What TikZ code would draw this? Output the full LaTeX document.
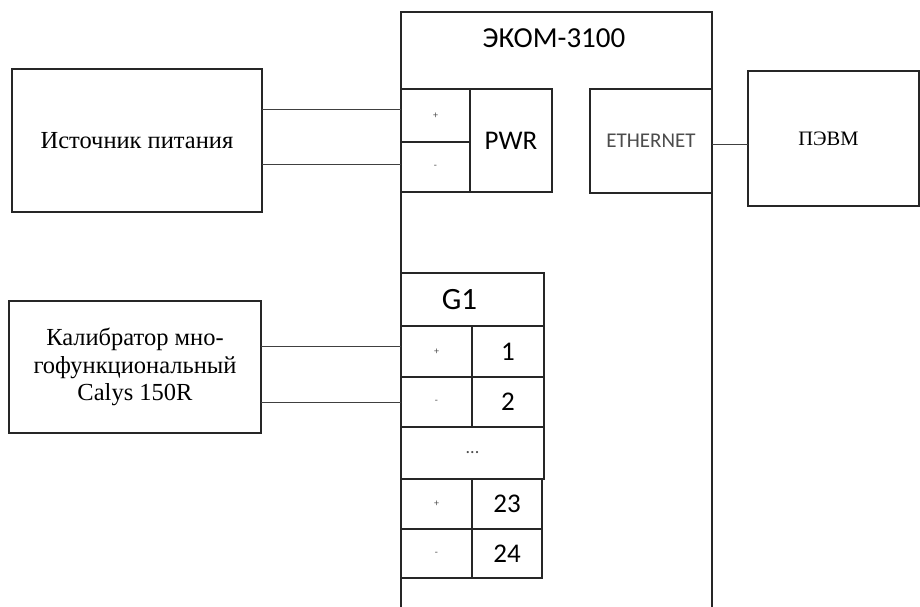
\documentclass[tikz,border=0pt]{standalone}
\usepackage{fontspec}
\setmainfont{Liberation Serif}
\newfontfamily\calfont{Carlito}
\begin{document}
\begin{tikzpicture}[x=1pt,y=-1pt,
  box/.style={draw=black!85,line width=1.3pt,inner sep=0pt,outer sep=0pt},
  wire/.style={draw=black!75,line width=0.9pt},
  serif/.style={font=\fontsize{24.5}{27.5}\selectfont,align=center},
  sans/.style={font=\calfont\fontsize{27}{30}\selectfont},
  pm/.style={font=\calfont\fontsize{10}{10}\selectfont,text=black!70}]
\useasboundingbox (0,0) rectangle (920,606);
% power source
\node[box,serif,minimum width=250,minimum height=143] (src) at (137,140.5) {Источник питания};
% EKOM main housing (open at the bottom)
\node[inner sep=0pt,outer sep=0pt,minimum width=311,minimum height=600] (ekom) at (556.5,312) {};
\draw[box] (ekom.south west) -- (ekom.north west) -- (ekom.north east) -- (ekom.south east);
\node[font=\calfont\fontsize{29}{32}\selectfont] (title) at (554,38) {ЭКОМ-3100};
% PWR block
\node[box,pm,minimum width=69,minimum height=53] (pplus) at (435.5,115.5) {+};
\node[box,pm,minimum width=69,minimum height=50] (pminus) at (435.5,167) {-};
\node[box,sans,minimum width=82,minimum height=103] (pwr) at (511,140.5) {PWR};
% ETHERNET
\node[box,font=\calfont\fontsize{21}{24}\selectfont,text=black!70,minimum width=122,minimum height=104] (eth) at (651,141) {ETHERNET};
% PC
\node[box,font=\fontsize{20.5}{24}\selectfont,minimum width=171,minimum height=135] (pevm) at (833.5,138.5) {\hspace*{-10pt}ПЭВМ};
% G1 block
\node[box,font=\calfont\fontsize{31}{34}\selectfont,minimum width=143,minimum height=53] (g1) at (472.5,299.5) {\hspace*{-26pt}G1};
\node[box,pm,minimum width=71,minimum height=51] (g1p) at (436.5,351.5) {+};
\node[box,sans,minimum width=72,minimum height=51] (g1n) at (508,351.5) {1};
\node[box,pm,minimum width=71,minimum height=50] (g2m) at (436.5,402) {-};
\node[box,sans,minimum width=72,minimum height=50] (g2n) at (508,402) {2};
\node[box,pm,font=\calfont\fontsize{18}{18}\selectfont,minimum width=143,minimum height=52] (gdots) at (472.5,453) {...};
\node[box,pm,minimum width=71,minimum height=50] (g23p) at (436.5,504) {+};
\node[box,sans,minimum width=70,minimum height=50] (g23n) at (507,504) {23};
\node[box,pm,minimum width=71,minimum height=49] (g24m) at (436.5,553.5) {-};
\node[box,sans,minimum width=70,minimum height=49] (g24n) at (507,553.5) {24};
% calibrator
\node[box,serif,minimum width=252,minimum height=132] (cal) at (135,367) {Калибратор мно-\\гофункциональный\\Calys 150R};
% wires
\coordinate (w1) at ([yshift=6pt]pplus.west);
\coordinate (w2) at ([yshift=3pt]pminus.west);
\draw[wire] (w1 -| src.east) -- (w1);
\draw[wire] (w2 -| src.east) -- (w2);
\coordinate (w3) at ([yshift=-3pt]eth.east);
\draw[wire] (w3) -- (w3 -| pevm.west);
\coordinate (w4) at ([yshift=5pt]g1p.west);
\draw[wire] (w4 -| cal.east) -- (w4);
\draw[wire] (g2m.west -| cal.east) -- (g2m.west);
\end{tikzpicture}
\end{document}
